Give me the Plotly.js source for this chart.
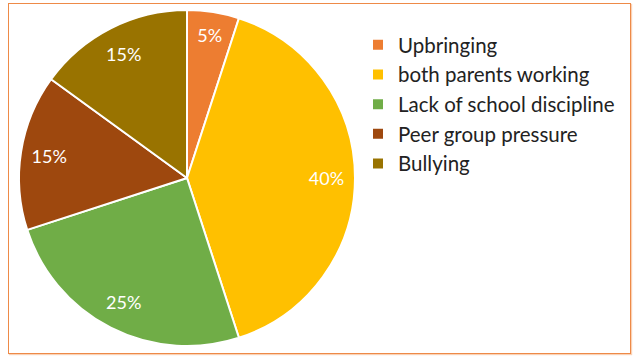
<!DOCTYPE html>
<html><head><meta charset="utf-8">
<script src="https://cdn.plot.ly/plotly-3.0.1.min.js"></script>
<style>
html,body{margin:0;padding:0;background:#fff;}
#wrap{position:relative;width:640px;height:360px;}
#chart{width:640px;height:360px;}
#frame{position:absolute;left:8px;top:3px;width:621px;height:349px;border:1.5px solid #EE8A48;pointer-events:none;box-shadow:1px 1px 1px rgba(237,125,49,0.35);}
</style></head>
<body><div id="wrap"><div id="chart"></div><div id="frame"></div></div>
<script>
const categories = ["Upbringing","both parents working","Lack of school discipline","Peer group pressure","Bullying"];
const values = [5,40,25,15,15];
const colors = ["#ED7D31","#FFC000","#70AD47","#9E480E","#997300"];

const dom = {x:[19/640,355/640], y:[1-346/360,1-10/360]};
const base = {
  type:'pie', labels:categories, values:values, sort:false, direction:'clockwise', rotation:0,
  marker:{colors:colors, line:{color:'#ffffff', width:2}},
  textinfo:'none', domain:dom, hoverinfo:'label+percent'
};
const labelsRing = {
  type:'pie', labels:categories, values:values, sort:false, direction:'clockwise', rotation:0,
  hole:0.66, showlegend:false,
  marker:{colors:colors.map(()=> 'rgba(0,0,0,0)'), line:{width:0}},
  texttemplate:'%{percent:.0%}', textposition:'inside', insidetextorientation:'horizontal',
  textfont:{family:'Lato, sans-serif', size:18, color:'#ffffff'},
  domain:dom, hoverinfo:'skip'
};
const layout = {
  width:640, height:360, margin:{l:0,r:0,t:0,b:0},
  paper_bgcolor:'#ffffff', showlegend:true,
  legend:{x:358/640, y:1-25/360, xanchor:'left', yanchor:'top', font:{family:'Lato, sans-serif', size:20.5, color:'#222222'}, bgcolor:'rgba(0,0,0,0)', itemwidth:30},
  font:{family:'Lato, sans-serif'}
};
Plotly.newPlot('chart',[base, labelsRing],layout,{displayModeBar:false, staticPlot:true});
</script></body></html>
